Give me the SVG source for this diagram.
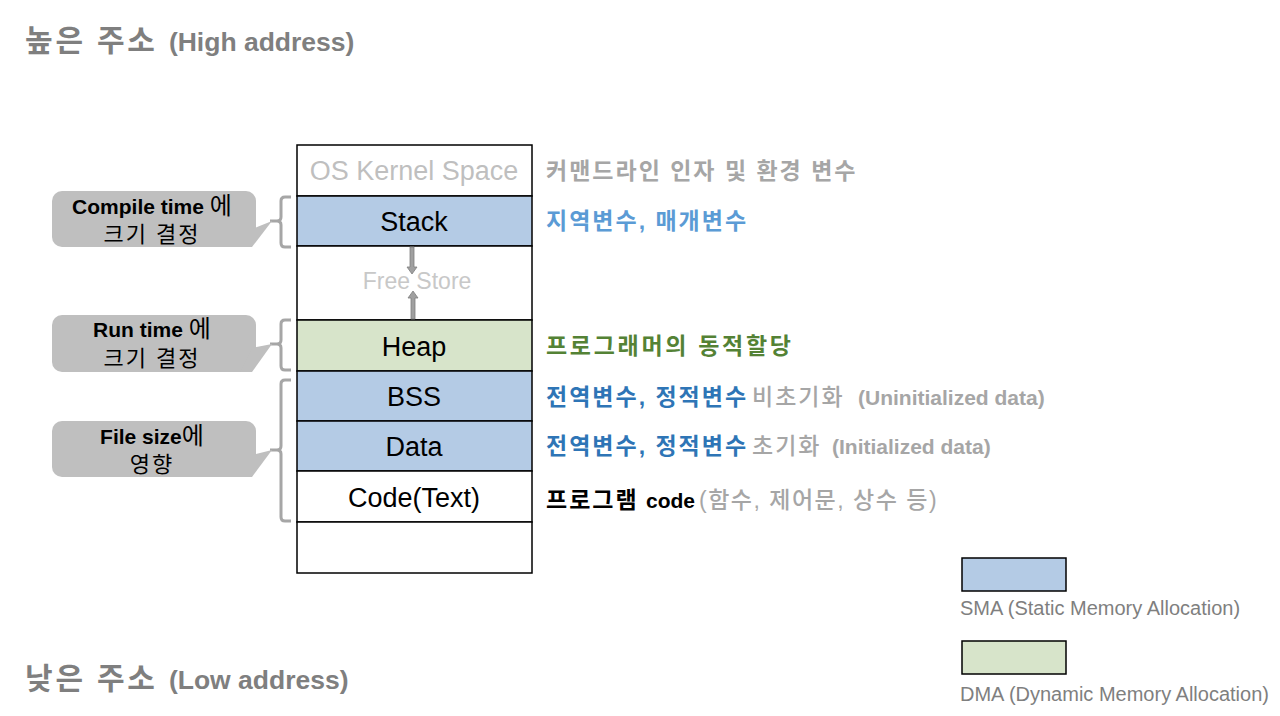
<svg xmlns="http://www.w3.org/2000/svg" width="1280" height="716" viewBox="0 0 1280 716">
<style>
text{font-family:"Liberation Sans","Noto Sans CJK KR",sans-serif}
.cell{stroke:#000;stroke-width:1.5}
.blue{fill:#B4CBE5}
.green{fill:#D7E4CA}
.white{fill:#fff}
.ct{font-size:27px;text-anchor:middle;fill:#000}
.call{fill:#BFBFBF}
.brk{fill:none;stroke:#A6A6A6;stroke-width:3;stroke-linejoin:round}
.arr{fill:#A0A0A0;stroke:#7F7F7F;stroke-width:0.8}
.lbl{font-size:23px;font-weight:bold;letter-spacing:2px}
.lat{font-size:21px;font-weight:bold;letter-spacing:0}
.reg{font-weight:500}
.g{fill:#A6A6A6}
.b1{fill:#5B9BD5}
.b2{fill:#2E75B6}
.gr{fill:#548235}
.k{fill:#000}
.ttl{fill:#7F7F7F;font-weight:bold}
.ctx{text-anchor:middle;fill:#000}
.leg{font-size:20px;fill:#7F7F7F}
</style>

<g id="title-high"><text class="ttl" x="25" y="51" font-size="30" letter-spacing="2.8">높은 주소 <tspan font-size="26.5" letter-spacing="0">(High address)</tspan></text></g>
<g id="title-low"><text class="ttl" x="25" y="689" font-size="30" letter-spacing="2.8">낮은 주소 <tspan font-size="26.5" letter-spacing="0">(Low address)</tspan></text></g>

<g id="cell-kernel"><rect class="cell white" x="297" y="145" width="235" height="51"/><text class="ct" x="414" y="180" style="fill:#BFBFBF">OS Kernel Space</text></g>
<g id="cell-stack"><rect class="cell blue" x="297" y="196" width="235" height="50"/><text class="ct" x="414" y="231">Stack</text></g>
<g id="cell-free"><rect class="cell white" x="297" y="246" width="235" height="74"/><text x="417" y="289" font-size="23" text-anchor="middle" fill="#C8C8C8">Free Store</text></g>
<g id="cell-heap"><rect class="cell green" x="297" y="320" width="235" height="51"/><text class="ct" x="414" y="356">Heap</text></g>
<g id="cell-bss"><rect class="cell blue" x="297" y="371" width="235" height="50"/><text class="ct" x="414" y="406">BSS</text></g>
<g id="cell-data"><rect class="cell blue" x="297" y="421" width="235" height="50"/><text class="ct" x="414" y="456">Data</text></g>
<g id="cell-code"><rect class="cell white" x="297" y="471" width="235" height="51"/><text class="ct" x="414" y="507">Code(Text)</text></g>
<g id="cell-empty"><rect class="cell white" x="297" y="522" width="235" height="51"/></g>

<g id="connectors">
<polygon class="arr" points="410,247 414,247 414,267 417,267 412,274 407,267 410,267"/>
<polygon class="arr" points="413,291 418,298 415,298 415,319 411,319 411,298 408,298"/>
<path class="brk" d="M291,197 H285 Q281,197 281,201 V217 Q281,221 277,221 H270 M277,221 Q281,221 281,225 V243 Q281,247 285,247 H291"/>
<path class="brk" d="M291,320 H285 Q281,320 281,324 V340 Q281,344 277,344 H270 M277,344 Q281,344 281,348 V366 Q281,370 285,370 H291"/>
<path class="brk" d="M291,380 H285 Q281,380 281,384 V446 Q281,450 277,450 H270 M277,450 Q281,450 281,454 V517 Q281,521 285,521 H291"/>
</g>

<g id="callout-compile">
<rect class="call" x="52" y="191" width="204" height="56" rx="10"/>
<polygon class="call" points="252,229 272,221 252,247 240,247"/>
<text class="ctx" x="152" y="214"><tspan font-size="21" font-weight="bold">Compile time </tspan><tspan font-size="24">에</tspan></text>
<text class="ctx" x="152" y="242" font-size="22" letter-spacing="2">크기 결정</text>
</g>
<g id="callout-run">
<rect class="call" x="52" y="315" width="204" height="57" rx="10"/>
<polygon class="call" points="252,348 272,344 252,372 240,372"/>
<text class="ctx" x="152" y="337"><tspan font-size="21" font-weight="bold">Run time </tspan><tspan font-size="24">에</tspan></text>
<text class="ctx" x="152" y="366" font-size="22" letter-spacing="2">크기 결정</text>
</g>
<g id="callout-file">
<rect class="call" x="52" y="421" width="204" height="56" rx="10"/>
<polygon class="call" points="252,455 272,450 252,477 240,477"/>
<text class="ctx" x="152" y="444"><tspan font-size="21" font-weight="bold">File size</tspan><tspan font-size="24">에</tspan></text>
<text class="ctx" x="152" y="472" font-size="22" letter-spacing="2">영향</text>
</g>

<g id="label-kernel"><text class="lbl g" x="546" y="179">커맨드라인 인자 및 환경 변수</text></g>
<g id="label-stack"><text class="lbl b1" x="546" y="229">지역변수, 매개변수</text></g>
<g id="label-heap"><text class="lbl gr" x="546" y="354" style="letter-spacing:2.7px">프로그래머의 동적할당</text></g>
<g id="label-bss"><text class="lbl" x="546" y="405"><tspan class="b2">전역변수, 정적변수</tspan><tspan class="g reg" x="752">비초기화</tspan><tspan class="g lat" x="858">(Uninitialized data)</tspan></text></g>
<g id="label-data"><text class="lbl" x="546" y="454"><tspan class="b2">전역변수, 정적변수</tspan><tspan class="g reg" x="752">초기화</tspan><tspan class="g lat" x="832">(Initialized data)</tspan></text></g>
<g id="label-code"><text class="lbl" x="546" y="508"><tspan class="k">프로그램</tspan><tspan class="k lat" x="646">code</tspan><tspan class="g reg" x="699" letter-spacing="1.5">(함수, 제어문, 상수 등)</tspan></text></g>

<g id="legend-sma"><rect class="cell blue" x="962" y="558" width="104" height="33"/><text class="leg" x="960" y="615">SMA (Static Memory Allocation)</text></g>
<g id="legend-dma"><rect class="cell green" x="962" y="641" width="104" height="33"/><text class="leg" x="960" y="701">DMA (Dynamic Memory Allocation)</text></g>
</svg>
